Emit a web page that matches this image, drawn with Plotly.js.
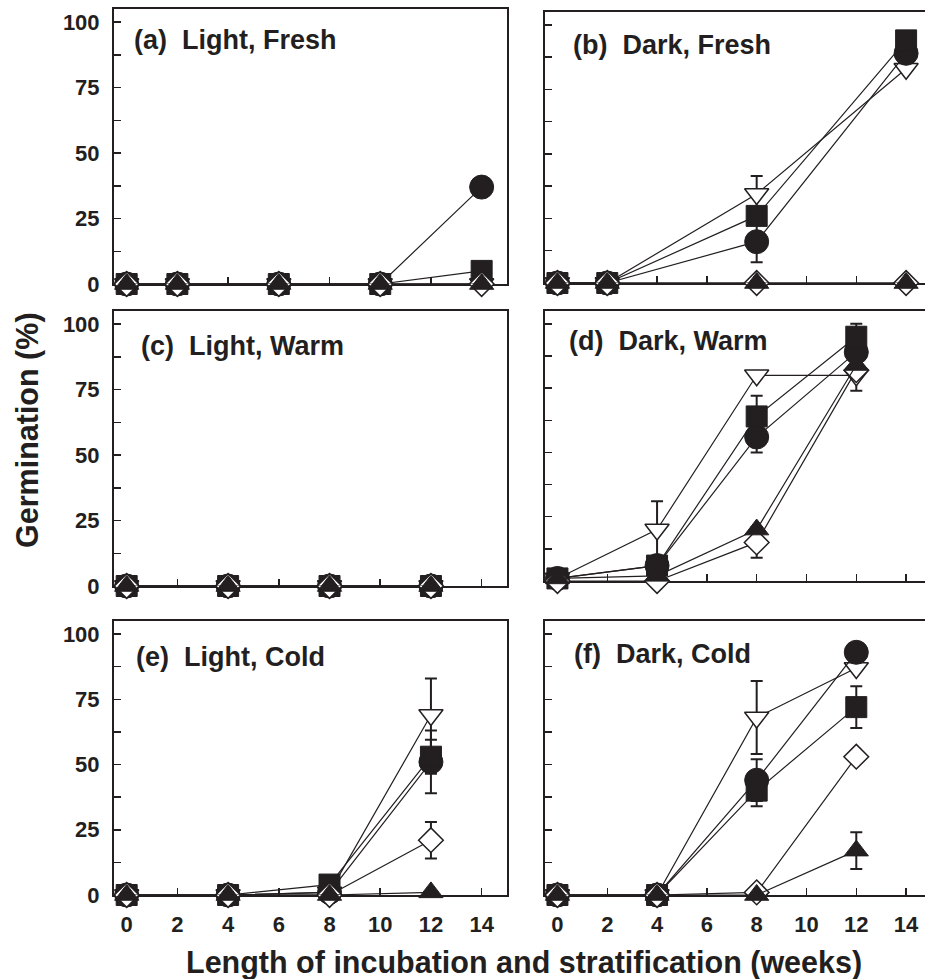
<!DOCTYPE html>
<html>
<head>
<meta charset="utf-8">
<script src="https://cdn.plot.ly/plotly-3.0.1.min.js"></script>
<style>
html, body { margin:0; padding:0; overflow:hidden; background:#fff; }
#chart { width:940px; height:979px; }
</style>
</head>
<body>
<div id="chart"></div>
<script>
// ---------- DATA ----------
const weeksA = [0, 2, 6, 10, 14];
const weeksB = [0, 2, 8, 14];
const weeksCDEF = [0, 4, 8, 12];

const xTickVals = [0, 2, 4, 6, 8, 10, 12, 14];
const xTickText = ['0', '2', '4', '6', '8', '10', '12', '14'];
const yTickVals = [0, 12.5, 25, 37.5, 50, 62.5, 75, 87.5, 100];
const yTickText = ['0', '', '25', '', '50', '', '75', '', '100'];

const panelLabels = ['(a)\u00a0\u00a0Light, Fresh', '(b)\u00a0\u00a0Dark, Fresh', '(c)\u00a0\u00a0Light, Warm',
                     '(d)\u00a0\u00a0Dark, Warm', '(e)\u00a0\u00a0Light, Cold', '(f)\u00a0\u00a0Dark, Cold'];

// (a) Light, Fresh
const aCircle  = [0, 0, 0, 0, 37];
const aSquare  = [0, 0, 0, 0, 5];
const aDownTri = [0, 0, 0, 0, 0];
const aDiamond = [0, 0, 0, 0, 0];
const aTriUp   = [0, 0, 0, 0, 0];

// (b) Dark, Fresh
const bCircle  = [0, 0, 16, 89];
const bCircleErr  = [null, null, 8, null];
const bSquare  = [0, 0, 26, 94];
const bDownTri = [0, 0, 34.5, 83];
const bDownTriErr = [null, null, 7, null];
const bDiamond = [0, 0, 0, 0];
const bTriUp   = [0, 0, 0, 0];

// (c) Light, Warm
const cCircle  = [0, 0, 0, 0];
const cSquare  = [0, 0, 0, 0];
const cDownTri = [0, 0, 0, 0];
const cDiamond = [0, 0, 0, 0];
const cTriUp   = [0, 0, 0, 0];

// (d) Dark, Warm
const dCircle  = [1, 6, 56, 89];
const dCircleErr  = [null, null, 6, null];
const dSquare  = [1, 6, 64, 95];
const dSquareErr  = [null, null, 8, 5];
const dDownTri = [1, 20, 80, 80];
const dDownTriErr = [null, 11, null, 6];
const dDiamond = [0, 0, 15, 82];
const dDiamondErr = [null, null, 6, null];
const dTriUp   = [1, 2, 20, 84];

// (e) Light, Cold
const eCircle  = [0, 0, 1, 51];
const eCircleErr  = [null, null, null, 12];
const eSquare  = [0, 0, 4, 53];
const eSquareErr  = [null, null, null, 6.5];
const eDownTri = [0, 0, 1, 69];
const eDownTriErr = [null, null, null, 14];
const eDiamond = [0, 0, 0, 21];
const eDiamondErr = [null, null, null, 7];
const eTriUp   = [0, 0, 0, 1];

// (f) Dark, Cold
const fCircle  = [0, 0, 44, 93];
const fCircleErr  = [null, null, 8, null];
const fSquare  = [0, 0, 40, 72];
const fSquareErr  = [null, null, 6, 8];
const fDownTri = [0, 0, 68, 87];
const fDownTriErr = [null, null, 14, null];
const fDiamond = [0, 0, 1, 53];
const fTriUp   = [0, 0, 0, 17];
const fTriUpErr   = [null, null, null, 7];

// ---------- STYLE ----------
const INK = '#231f20';
const FONT = 'Liberation Sans, Arial, Helvetica, sans-serif';

const markerStyles = {
  downTri: {symbol: 'triangle-down', size: 21, color: '#ffffff', line: {color: INK, width: 1.5}},
  diamond: {symbol: 'diamond', size: 19, color: '#ffffff', line: {color: INK, width: 1.5}},
  circle:  {symbol: 'circle', size: 24, color: INK, line: {color: INK, width: 1}},
  square:  {symbol: 'square', size: 21, color: INK, line: {color: INK, width: 1}},
  triUp:   {symbol: 'triangle-up', size: 21, color: INK, line: {color: INK, width: 1}}
};

function series(x, y, err, kind, xa, ya) {
  const t = {
    type: 'scatter', mode: 'lines+markers',
    x: x, y: y, xaxis: xa, yaxis: ya,
    line: {color: INK, width: 1.2},
    marker: markerStyles[kind],
    cliponaxis: false, hoverinfo: 'skip', showlegend: false
  };
  if (err) {
    t.error_y = {type: 'data', array: err, symmetric: true, visible: true,
                 color: INK, thickness: 2, width: 6};
  }
  return t;
}

function panel(x, d, xa, ya) {
  return [
    series(x, d.downTri, d.downTriErr, 'downTri', xa, ya),
    series(x, d.circle, d.circleErr, 'circle', xa, ya),
    series(x, d.square, d.squareErr, 'square', xa, ya),
    series(x, d.diamond, d.diamondErr, 'diamond', xa, ya),
    series(x, d.triUp, d.triUpErr, 'triUp', xa, ya)
  ];
}

const traces = [].concat(
  panel(weeksA, {circle: aCircle, square: aSquare, downTri: aDownTri, diamond: aDiamond, triUp: aTriUp}, 'x', 'y'),
  panel(weeksB, {circle: bCircle, circleErr: bCircleErr, square: bSquare, downTri: bDownTri, downTriErr: bDownTriErr,
                 diamond: bDiamond, triUp: bTriUp}, 'x2', 'y2'),
  panel(weeksCDEF, {circle: cCircle, square: cSquare, downTri: cDownTri, diamond: cDiamond, triUp: cTriUp}, 'x3', 'y3'),
  panel(weeksCDEF, {circle: dCircle, circleErr: dCircleErr, square: dSquare, squareErr: dSquareErr,
                    downTri: dDownTri, downTriErr: dDownTriErr, diamond: dDiamond, diamondErr: dDiamondErr,
                    triUp: dTriUp}, 'x4', 'y4'),
  panel(weeksCDEF, {circle: eCircle, circleErr: eCircleErr, square: eSquare, squareErr: eSquareErr,
                    downTri: eDownTri, downTriErr: eDownTriErr, diamond: eDiamond, diamondErr: eDiamondErr,
                    triUp: eTriUp}, 'x5', 'y5'),
  panel(weeksCDEF, {circle: fCircle, circleErr: fCircleErr, square: fSquare, squareErr: fSquareErr,
                    downTri: fDownTri, downTriErr: fDownTriErr, diamond: fDiamond,
                    triUp: fTriUp, triUpErr: fTriUpErr}, 'x6', 'y6')
);

const W = 940, H = 979;
const colDom = [[114 / W, 507 / W], [545 / W, 931 / W]];
const rowDomL = [[1 - 284 / H, 1 - 9 / H], [1 - 586 / H, 1 - 311 / H], [1 - 895 / H, 1 - 621 / H]];
const rowDomR = [[1 - 283 / H, 1 - 12 / H], [1 - 581 / H, 1 - 311 / H], [1 - 895 / H, 1 - 621 / H]];

const tickFont = {family: FONT, size: 22, color: INK, weight: 'bold'};

function xAxis(domain, anchor, labels) {
  return {
    domain: domain, anchor: anchor, range: [-0.5, 15],
    tickmode: 'array', tickvals: xTickVals, ticktext: labels ? xTickText : xTickVals.map(() => ''),
    ticks: 'inside', ticklen: 7, tickwidth: 1.5, tickcolor: INK,
    showline: true, linewidth: 2, linecolor: INK, mirror: true,
    showgrid: false, zeroline: false, layer: 'below traces',
    tickfont: tickFont, ticklabelstandoff: 9, fixedrange: true
  };
}
function yAxis(domain, anchor, labels) {
  return {
    domain: domain, anchor: anchor, range: [0, 105],
    tickmode: 'array', tickvals: yTickVals, ticktext: labels ? yTickText : yTickVals.map(() => ''),
    ticks: 'inside', ticklen: 7, tickwidth: 1.5, tickcolor: INK,
    showline: true, linewidth: 2, linecolor: INK, mirror: true,
    showgrid: false, zeroline: false, layer: 'below traces',
    tickfont: tickFont, ticklabelstandoff: 8, fixedrange: true
  };
}

const layout = {
  width: W, height: H,
  margin: {l: 0, r: 0, t: 0, b: 0},
  paper_bgcolor: '#ffffff', plot_bgcolor: '#ffffff',
  showlegend: false,
  font: {family: FONT, color: INK},
  xaxis:  xAxis(colDom[0], 'y',  false), yaxis:  yAxis(rowDomL[0], 'x',  true),
  xaxis2: xAxis(colDom[1], 'y2', false), yaxis2: yAxis(rowDomR[0], 'x2', false),
  xaxis3: xAxis(colDom[0], 'y3', false), yaxis3: yAxis(rowDomL[1], 'x3', true),
  xaxis4: xAxis(colDom[1], 'y4', false), yaxis4: yAxis(rowDomR[1], 'x4', false),
  xaxis5: xAxis(colDom[0], 'y5', true),  yaxis5: yAxis(rowDomL[2], 'x5', true),
  xaxis6: xAxis(colDom[1], 'y6', true),  yaxis6: yAxis(rowDomR[2], 'x6', false),
  annotations: []
};

const labelPos = [
  ['x', 'y', 0.046, 0.889], ['x2', 'y2', 0.067, 0.878],
  ['x3', 'y3', 0.064, 0.873], ['x4', 'y4', 0.058, 0.890],
  ['x5', 'y5', 0.051, 0.870], ['x6', 'y6', 0.071, 0.880]
];
labelPos.forEach((p, i) => {
  layout.annotations.push({
    text: panelLabels[i], xref: p[0] + ' domain', yref: p[1] + ' domain',
    x: p[2], y: p[3], xanchor: 'left', yanchor: 'middle', showarrow: false,
    font: {family: FONT, size: 27, color: INK, weight: 'bold'}
  });
});
layout.annotations.push({
  text: 'Germination (%)', xref: 'paper', yref: 'paper',
  x: 27 / W, y: 1 - 430 / H, textangle: -90, showarrow: false,
  xanchor: 'center', yanchor: 'middle',
  font: {family: FONT, size: 30.5, color: INK, weight: 'bold'}
});
layout.annotations.push({
  text: 'Length of incubation and stratification (weeks)', xref: 'paper', yref: 'paper',
  x: 524 / W, y: 1 - 962 / H, showarrow: false,
  xanchor: 'center', yanchor: 'middle',
  font: {family: FONT, size: 30.5, color: INK, weight: 'bold'}
});

Plotly.newPlot('chart', traces, layout, {staticPlot: true, displayModeBar: false});
</script>
</body>
</html>
